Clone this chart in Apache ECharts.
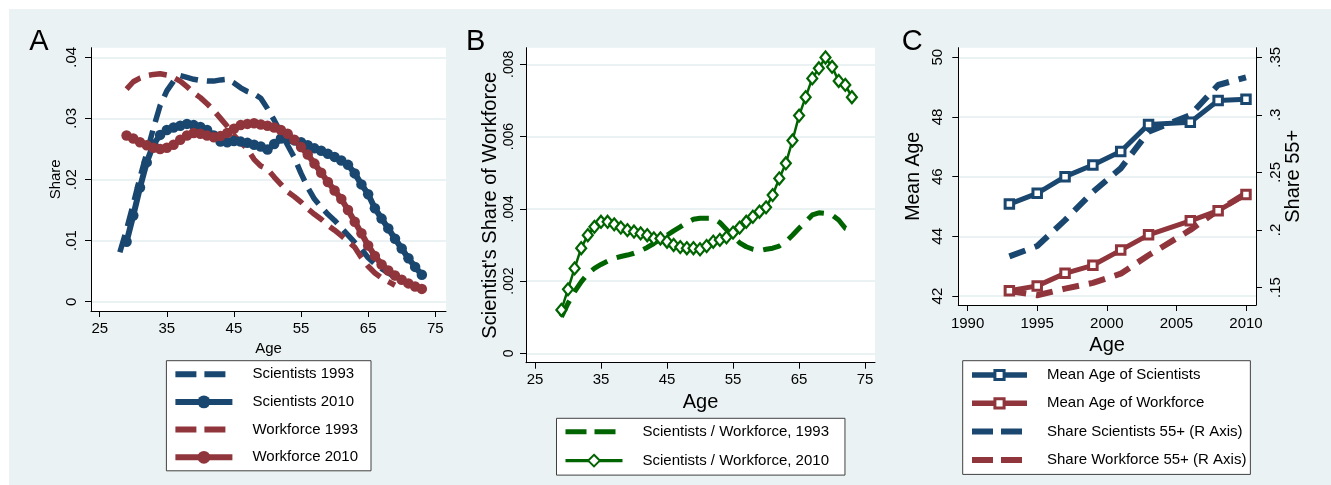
<!DOCTYPE html>
<html>
<head>
<meta charset="utf-8">
<script src="https://cdn.jsdelivr.net/npm/echarts@6/dist/echarts.min.js"></script>
<style>
html,body{margin:0;padding:0;background:#fff;}
#wrap{position:relative;width:1331px;height:485px;background:#fff;overflow:hidden;}
#bg{position:absolute;left:9px;top:9px;right:0;bottom:0;background:#eaf2f3;}
#c{position:absolute;left:0;top:0;width:1331px;height:485px;}
</style>
</head>
<body>
<div id="wrap"><div id="bg"></div><div id="c"></div></div>
<script>
// ---------- Panel A: age distribution shares ----------
const agesSci1993 = [28,29,30,31,32,33,34,35,36,37,38,39,40,41,42,43,44,45,46,47,48,49,50,51,52,53,54,55,56,57,58,59,60,61,62,63,64,65,66,67,68,69,70];
const sci1993 = [.0081,.0118,.0160,.0203,.0243,.0284,.0321,.0345,.0361,.0370,.0367,.0364,.0362,.0361,.0361,.0363,.0364,.0358,.0350,.0344,.0340,.0333,.0316,.0297,.0277,.0256,.0236,.0210,.0187,.0168,.0155,.0143,.0133,.0121,.0109,.0097,.0086,.0072,.0062,.0054,.0047,.0040,.0034];

const ages2010 = [29,30,31,32,33,34,35,36,37,38,39,40,41,42,43,44,45,46,47,48,49,50,51,52,53,54,55,56,57,58,59,60,61,62,63,64,65,66,67,68,69,70,71,72,73];
const sci2010 = [.0098,.0141,.0187,.0228,.0257,.0273,.0281,.0285,.0288,.0291,.0289,.0286,.0281,.0272,.0262,.0261,.0263,.0262,.0260,.0257,.0254,.0249,.0258,.0267,.0266,.0264,.0261,.0256,.0251,.0247,.0242,.0237,.0231,.0224,.0210,.0192,.0176,.0153,.0136,.0120,.0103,.0087,.0071,.0057,.0044];

const agesWf1993 = [29,30,31,32,33,34,35,36,37,38,39,40,41,42,43,44,45,46,47,48,49,50,51,52,53,54,55,56,57,58,59,60,61,62,63,64,65,66,67,68,69];
const wf1993 = [.0348,.0360,.0366,.0370,.0372,.0373,.0371,.0367,.0361,.0352,.0342,.0334,.0324,.0313,.0300,.0287,.0272,.0261,.0250,.0233,.0222,.0217,.0204,.0192,.0180,.0172,.0163,.0152,.0143,.0135,.0125,.0117,.0108,.0099,.0089,.0072,.0058,.0047,.0039,.0033,.0027];

const wf2010 = [.0272,.0267,.0261,.0256,.0252,.0250,.0252,.0257,.0265,.0272,.0276,.0275,.0272,.0269,.0271,.0276,.0283,.0289,.0291,.0292,.0290,.0288,.0285,.0281,.0275,.0265,.0253,.0241,.0226,.0211,.0196,.0182,.0168,.0150,.0131,.0112,.0092,.0075,.0061,.0051,.0043,.0036,.0030,.0025,.0021];

// ---------- Panel B: scientists / workforce ----------
const agesB = [29,30,31,32,33,34,35,36,37,38,39,40,41,42,43,44,45,46,47,48,49,50,51,52,53,54,55,56,57,58,59,60,61,62,63,64,65,66,67,68,69,70,71,72,73];
const ratio1993 = [.00101,.00138,.00171,.00198,.00220,.00235,.00246,.00255,.00263,.00268,.00272,.00277,.00284,.00293,.00304,.00316,.00327,.00339,.00350,.00362,.00371,.00374,.00374,.00374,.00362,.00343,.00323,.00306,.00295,.00288,.00284,.00288,.00291,.00297,.00309,.00327,.00346,.00364,.00383,.00389,.00387,.00383,.00369,.00346,.00339];
const ratio2010 = [.00120,.00177,.00235,.00291,.00327,.00350,.00364,.00364,.00357,.00348,.00341,.00337,.00332,.00327,.00318,.00318,.00309,.00300,.00294,.00291,.00291,.00288,.00297,.00309,.00314,.00321,.00334,.00348,.00364,.00378,.00392,.00404,.00438,.00484,.00526,.00589,.00658,.00709,.00761,.00789,.00819,.00793,.00754,.00743,.00709];

// ---------- Panel C: mean age and share 55+ ----------
const yearsC = [1993,1995,1997,1999,2001,2003,2006,2008,2010];
const meanAgeSci = [45.08,45.44,46.00,46.39,46.84,47.75,47.82,48.55,48.59];
const meanAgeWf = [42.18,42.34,42.76,43.03,43.54,44.05,44.52,44.86,45.40];
const share55Sci = [.177,.186,.2085,.233,.2535,.2853,.2998,.3259,.3326];
const share55Wf = [.147,.1433,.149,.154,.162,.178,.200,.217,.2317];

// ---------- tick labels ----------
const ticksAge = [25,35,45,55,65,75];
const ticksShareA = [0,.01,.02,.03,.04];
const ticksShareB = [0,.002,.004,.006,.008];
const ticksYear = [1990,1995,2000,2005,2010];
const ticksMeanAge = [42,44,46,48,50];
const ticksShare55 = [.15,.2,.25,.3,.35];

const NAVY = '#1a476f', MAROON = '#90353b', GREEN = '#006400', GRIDC = '#eaf2f3';
const FONT = '"Liberation Sans", Arial, Helvetica, sans-serif';

const pairs = (xs, ys) => xs.map((x, i) => [x, ys[i]]);
const stataNum = v => (v === 0 ? '0' : String(v).replace(/^0\./, '.'));

function axis(o) {
  return {
    type: 'value', gridIndex: o.grid, min: o.min, max: o.max, position: o.position,
    name: o.name, nameLocation: 'middle', nameGap: o.nameGap, nameRotate: o.nameRotate || 0,
    nameTextStyle: { fontSize: o.nameSize, color: '#000', fontFamily: FONT },
    axisLine: { show: true, onZero: false, lineStyle: { color: '#000', width: 1 } },
    axisTick: { show: true, length: 6, customValues: o.ticks, lineStyle: { color: '#000', width: 1 } },
    axisLabel: { show: true, customValues: o.ticks, rotate: o.rotate || 0, margin: o.margin,
      fontSize: o.labelSize || 15, color: '#000', fontFamily: FONT, formatter: o.fmt || (v => String(v)) },
    splitLine: { show: !!o.split, lineStyle: { color: GRIDC, width: 2 } },
    splitArea: { show: false }
  };
}

function dashed(name, xi, yi, data, color, width, dash) {
  return { type: 'line', name, xAxisIndex: xi, yAxisIndex: yi, data, symbol: 'none', showSymbol: false,
    lineStyle: { color, width, type: dash, cap: 'butt' }, itemStyle: { color }, silent: true, z: 2 };
}

const option = {
  animation: false,
  backgroundColor: 'transparent',
  textStyle: { fontFamily: FONT },
  grid: [
    { left: 91, top: 47.7, width: 355, height: 263.3, show: true, backgroundColor: '#fff', borderWidth: 0, containLabel: false, outerBoundsMode: 'none' },
    { left: 526, top: 47.7, width: 349, height: 315, show: true, backgroundColor: '#fff', borderWidth: 0, containLabel: false, outerBoundsMode: 'none' },
    { left: 958.3, top: 47.7, width: 297.7, height: 257.3, show: true, backgroundColor: '#fff', borderWidth: 0, containLabel: false, outerBoundsMode: 'none' }
  ],
  xAxis: [
    axis({ grid: 0, min: 23.7, max: 76.6, ticks: ticksAge, margin: 10, name: 'Age', nameGap: 25, nameSize: 15 }),
    axis({ grid: 1, min: 23.64, max: 76.5, ticks: ticksAge, margin: 10, name: 'Age', nameGap: 26, nameSize: 20 }),
    axis({ grid: 2, min: 1989.33, max: 2010.72, ticks: ticksYear, margin: 11, name: 'Age', nameGap: 25.5, nameSize: 20 })
  ],
  yAxis: [
    axis({ grid: 0, min: -0.00152, max: 0.04157, ticks: ticksShareA, rotate: 90, margin: 12, fmt: stataNum, split: true,
      name: 'Share', nameGap: 27, nameRotate: 90, nameSize: 15 }),
    axis({ grid: 1, min: -0.00026, max: 0.00846, ticks: ticksShareB, rotate: 90, margin: 10, labelSize: 14, fmt: stataNum, split: true,
      name: "Scientist's Share of Workforce", nameGap: 26, nameRotate: 90, nameSize: 20 }),
    axis({ grid: 2, min: 41.7, max: 50.32, ticks: ticksMeanAge, rotate: 90, margin: 12.5, split: true, position: 'left',
      name: 'Mean Age', nameGap: 34.5, nameRotate: 90, nameSize: 19.5 }),
    axis({ grid: 2, min: 0.1348, max: 0.3583, ticks: ticksShare55, rotate: 90, margin: 12, fmt: stataNum, split: false, position: 'right',
      name: 'Share 55+', nameGap: 23, nameRotate: 90, nameSize: 20 })
  ],
  legend: [
    { orient: 'vertical', left: 166.4, top: 360.7, padding: [6, 13, 6, 6], itemWidth: 57, itemHeight: 16, itemGap: 12.7,
      backgroundColor: '#fff', borderColor: '#404040', borderWidth: 1, borderRadius: 0, selectedMode: false,
      textStyle: { fontSize: 15, color: '#000', fontFamily: FONT, padding: [0, 0, 0, 15] },
      lineStyle: { width: 6 },
      data: [
        { name: 'Scientists 1993', itemStyle: { opacity: 0 }, lineStyle: { width: 6, type: [21, 8] } },
        { name: 'Scientists 2010' },
        { name: 'Workforce 1993', itemStyle: { opacity: 0 }, lineStyle: { width: 6, type: [21, 8] } },
        { name: 'Workforce 2010' }
      ] },
    { orient: 'vertical', left: 556.5, top: 418.3, padding: [6, 16, 7, 6.5], itemWidth: 57, itemHeight: 14.5, itemGap: 13.8,
      backgroundColor: '#fff', borderColor: '#404040', borderWidth: 1, borderRadius: 0, selectedMode: false,
      textStyle: { fontSize: 15, color: '#000', fontFamily: FONT, padding: [0, 0, 0, 15] },
      data: [
        { name: 'Scientists / Workforce, 1993', itemStyle: { opacity: 0 }, lineStyle: { width: 5, type: [21, 8] } },
        { name: 'Scientists / Workforce, 2010', itemStyle: { color: '#fff', borderColor: GREEN, borderWidth: 2 }, lineStyle: { width: 3.3 } }
      ] },
    { orient: 'vertical', left: 962.7, top: 360.7, padding: [6.8, 4, 7, 6.3], itemWidth: 55, itemHeight: 11.5, itemGap: 13.3,
      backgroundColor: '#fff', borderColor: '#404040', borderWidth: 1, borderRadius: 0, selectedMode: false,
      textStyle: { fontSize: 15, color: '#000', fontFamily: FONT, padding: [0, 0, 0, 15] },
      data: [
        { name: 'Mean Age of Scientists', itemStyle: { color: '#fff', borderColor: NAVY, borderWidth: 3 }, lineStyle: { width: 5.5 } },
        { name: 'Mean Age of Workforce', itemStyle: { color: '#fff', borderColor: MAROON, borderWidth: 3 }, lineStyle: { width: 5.5 } },
        { name: 'Share Scientists 55+ (R Axis)', itemStyle: { opacity: 0 }, lineStyle: { width: 6, type: [21, 8] } },
        { name: 'Share Workforce 55+ (R Axis)', itemStyle: { opacity: 0 }, lineStyle: { width: 6, type: [21, 8] } }
      ] }
  ],
  graphic: [
    { type: 'text', x: 29.3, y: 42.2, silent: true, style: { text: 'A', font: '29px ' + FONT, fill: '#000', align: 'left', verticalAlign: 'middle' } },
    { type: 'text', x: 466, y: 42.2, silent: true, style: { text: 'B', font: '29px ' + FONT, fill: '#000', align: 'left', verticalAlign: 'middle' } },
    { type: 'text', x: 901.8, y: 42.2, silent: true, style: { text: 'C', font: '29px ' + FONT, fill: '#000', align: 'left', verticalAlign: 'middle' } }
  ],
  series: [
    // Panel A
    dashed('Scientists 1993', 0, 0, pairs(agesSci1993, sci1993), NAVY, 5.5, [18, 9]),
    { type: 'line', name: 'Scientists 2010', xAxisIndex: 0, yAxisIndex: 0, data: pairs(ages2010, sci2010),
      symbol: 'circle', symbolSize: 10.5, showSymbol: true, lineStyle: { color: NAVY, width: 6 }, itemStyle: { color: NAVY }, silent: true, z: 2 },
    dashed('Workforce 1993', 0, 0, pairs(agesWf1993, wf1993), MAROON, 5.5, [18, 9]),
    { type: 'line', name: 'Workforce 2010', xAxisIndex: 0, yAxisIndex: 0, data: pairs(ages2010, wf2010),
      symbol: 'circle', symbolSize: 10.5, showSymbol: true, lineStyle: { color: MAROON, width: 6 }, itemStyle: { color: MAROON }, silent: true, z: 2 },
    // Panel B
    dashed('Scientists / Workforce, 1993', 1, 1, pairs(agesB, ratio1993), GREEN, 5, [18, 10]),
    { type: 'line', name: 'Scientists / Workforce, 2010', xAxisIndex: 1, yAxisIndex: 1, data: pairs(agesB, ratio2010),
      symbol: 'diamond', symbolSize: [10, 12], showSymbol: true, lineStyle: { color: GREEN, width: 2.5 },
      itemStyle: { color: '#fff', borderColor: GREEN, borderWidth: 2.2 }, silent: true, z: 2 },
    // Panel C
    { type: 'line', name: 'Mean Age of Scientists', xAxisIndex: 2, yAxisIndex: 2, data: pairs(yearsC, meanAgeSci),
      symbol: 'rect', symbolSize: 8.5, showSymbol: true, lineStyle: { color: NAVY, width: 5 },
      itemStyle: { color: '#fff', borderColor: NAVY, borderWidth: 3 }, silent: true, z: 2 },
    { type: 'line', name: 'Mean Age of Workforce', xAxisIndex: 2, yAxisIndex: 2, data: pairs(yearsC, meanAgeWf),
      symbol: 'rect', symbolSize: 8.5, showSymbol: true, lineStyle: { color: MAROON, width: 5 },
      itemStyle: { color: '#fff', borderColor: MAROON, borderWidth: 3 }, silent: true, z: 2 },
    dashed('Share Scientists 55+ (R Axis)', 2, 3, pairs(yearsC, share55Sci), NAVY, 6, [17, 10]),
    dashed('Share Workforce 55+ (R Axis)', 2, 3, pairs(yearsC, share55Wf), MAROON, 6, [17, 10])
  ]
};

const chart = echarts.init(document.getElementById('c'), null, { renderer: 'canvas', width: 1331, height: 485 });
chart.setOption(option);
</script>
</body>
</html>
